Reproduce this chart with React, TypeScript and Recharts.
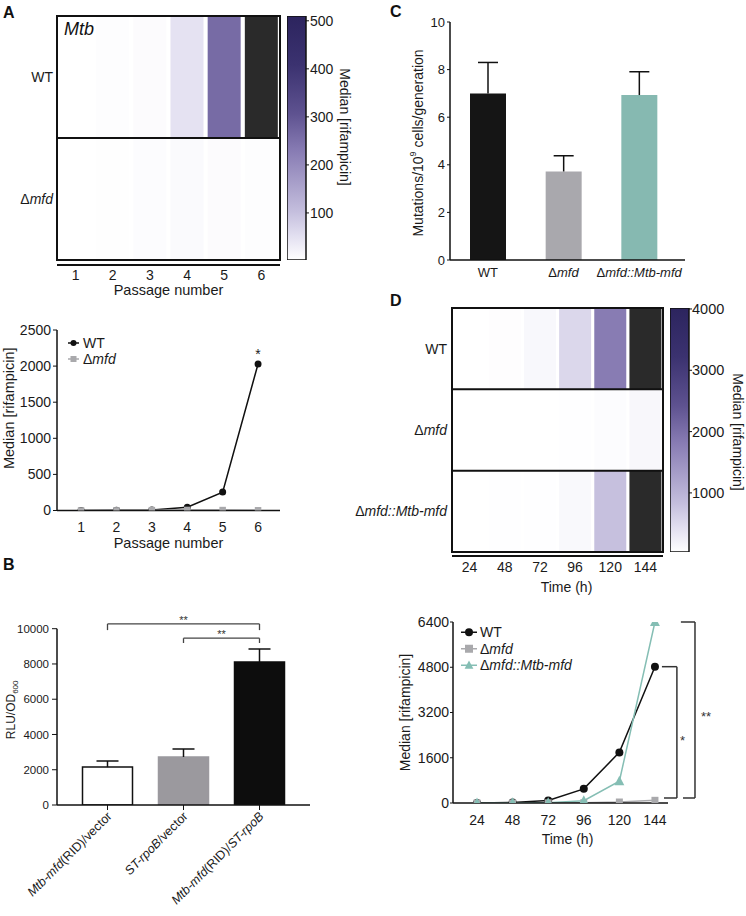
import React from "react";
import {
  BarChart, Bar, LineChart, Line, XAxis, YAxis, Cell,
  ReferenceLine, ReferenceDot, Legend,
} from "recharts";

const FONT = '"Liberation Sans", Arial, Helvetica, sans-serif';
const INK = "#1a1a1a";

// A: Mtb passage experiment
const passages = [1, 2, 3, 4, 5, 6];
const wtPassage = [0, 3, 6, 45, 255, 2030];
const mfdPassage = [0, 2, 5, 8, 6, 3];
const passageScaleRange = [2, 510];
const passageScaleTicks = [100, 200, 300, 400, 500];
const passageLineTicks = [0, 500, 1000, 1500, 2000, 2500];

// B: reporter assay
const constructs = ["Mtb-mfd(RID)/vector", "ST-rpoB/vector", "Mtb-mfd(RID)/ST-rpoB"];
const rluMean = [2150, 2720, 8110];
const rluErr = [340, 450, 740];
const rluTicks = [0, 2000, 4000, 6000, 8000, 10000];

// C: mutation rate
const strains = ["WT", "Δmfd", "Δmfd::Mtb-mfd"];
const mutRate = [7.0, 3.72, 6.93];
const mutErr = [1.3, 0.66, 0.98];
const mutTicks = [0, 2, 4, 6, 8, 10];

// D: time course
const hours = [24, 48, 72, 96, 120, 144];
const wtTime = [0, 20, 90, 500, 1790, 4820];
const mfdTime = [0, 0, 5, 10, 35, 95];
const compTime = [0, 8, 12, 80, 770, 6400];
const timeScaleRange = [36, 4016];
const timeScaleTicks = [1000, 2000, 3000, 4000];
const timeLineTicks = [0, 1600, 3200, 4800, 6400];

// colour map used by both heatmaps (t = value / max)
const HEAT_STOPS: [number, string][] = [
  [0, "#ffffff"], [0.1, "#e2dff0"], [0.2, "#c4bedd"], [0.45, "#877bb3"],
  [0.6, "#5e5290"], [0.8, "#3b3270"], [1, "#2c245e"],
];
const SATURATED = "#2a2a2a";

const toRgb = (h: string) => [1, 3, 5].map((i) => parseInt(h.slice(i, i + 2), 16));
function heatColor(v: number, max: number) {
  if (v > max) return SATURATED;
  const t = Math.max(0, v / max);
  for (let k = 1; k < HEAT_STOPS.length; k++) {
    const [t0, c0] = HEAT_STOPS[k - 1];
    const [t1, c1] = HEAT_STOPS[k];
    if (t <= t1) {
      const u = (t - t0) / (t1 - t0);
      const a = toRgb(c0), b = toRgb(c1);
      return `rgb(${a.map((x, i) => Math.round(x + (b[i] - x) * u)).join(",")})`;
    }
  }
  return HEAT_STOPS[HEAT_STOPS.length - 1][1];
}

const SERIES: Record<string, { color: string; marker: "circle" | "square" | "triangle"; label: string }> = {
  wt: { color: "#111111", marker: "circle", label: "WT" },
  mfd: { color: "#a9a9ac", marker: "square", label: "Δmfd" },
  comp: { color: "#85beb4", marker: "triangle", label: "Δmfd::Mtb-mfd" },
};

// gene names in italics
const rich = (s: string) =>
  s.split(/(mfd::Mtb-mfd|Mtb-mfd|ST-rpoB|mfd)/).map((part, i) =>
    part === "" ? null : i % 2 ? <tspan key={i} fontStyle="italic">{part}</tspan> : <tspan key={i}>{part}</tspan>
  );

function drawMarker(kind: string, cx: number, cy: number, color: string, s: number) {
  if (kind === "circle") return <circle cx={cx} cy={cy} r={s / 2} fill={color} />;
  if (kind === "square") return <rect x={cx - s / 2} y={cy - s / 2} width={s} height={s} fill={color} />;
  return <path d={`M${cx},${cy - s * 0.6} L${cx + s * 0.55},${cy + s * 0.45} L${cx - s * 0.55},${cy + s * 0.45} Z`} fill={color} />;
}

const markerDot = (key: string, size: number) => (p: any) => (
  <g key={`${key}-${p.index}`}>
    {p.cx != null && p.cy != null ? drawMarker(SERIES[key].marker, p.cx, p.cy, SERIES[key].color, size) : null}
  </g>
);

// upper whisker only: drawn on a transparent segment stacked on the bar
const whisker = (half: number) => (p: any) => {
  const cx = p.x + p.width / 2;
  return (
    <g stroke="#111" strokeWidth={1.5}>
      <line x1={cx} x2={cx} y1={p.y} y2={p.y + p.height} />
      <line x1={cx - half} x2={cx + half} y1={p.y} y2={p.y} />
    </g>
  );
};

const legendContent = (lineLen: number, rowH: number, size: number, fontSize: number, gap: number) => (props: any) => {
  const items = props.payload ?? [];
  return (
    <svg width={200} height={rowH * items.length + 2} style={{ overflow: "visible" }}>
      {items.map((it: any, i: number) => {
        const s = SERIES[it.dataKey];
        const y = rowH * i + rowH / 2;
        return (
          <g key={it.dataKey}>
            <line x1={0} x2={lineLen} y1={y} y2={y} stroke={s.color} strokeWidth={1.5} />
            {drawMarker(s.marker, lineLen / 2, y, s.color, size)}
            <text x={lineLen + gap} y={y} dy="0.35em" fontSize={fontSize} fill={INK} fontFamily={FONT}>{rich(s.label)}</text>
          </g>
        );
      })}
    </svg>
  );
};

function axisTitle(content: React.ReactNode, axis: "x" | "y", offset: number,
  opts: { angle?: number; shift?: number; size?: number } = {}) {
  const { angle = 0, shift = 0, size = 14 } = opts;
  return (props: any) => {
    const vb = props.viewBox;
    if (!vb) return null;
    const x = axis === "x" ? vb.x + vb.width / 2 + shift : vb.x + offset;
    const y = axis === "x" ? vb.y + offset : vb.y + vb.height / 2 + shift;
    return (
      <text x={x} y={y} textAnchor="middle" dominantBaseline="central" fontSize={size} fill={INK}
        transform={angle ? `rotate(${angle} ${x} ${y})` : undefined}>{content}</text>
    );
  };
}

const rowTick = (rows: string[], size: number) => (props: any) => (
  <text x={props.x} y={props.y} dy="0.35em" textAnchor="end" fontSize={size} fill={INK}>
    {rich(rows[Math.floor(props.payload.value)])}
  </text>
);

const strainTick = (props: any) => (
  <text x={props.x} y={props.y} dy={10} textAnchor="middle" fontSize={13} fill={INK}>{rich(props.payload.value)}</text>
);

const constructTick = (props: any) => {
  const x = props.x + 5, y = props.y + 5;
  return (
    <text x={x} y={y} textAnchor="end" fontSize={12.5} fill={INK} transform={`rotate(-45 ${x} ${y})`}>
      {rich(props.payload.value)}
    </text>
  );
};

const gradStops = HEAT_STOPS.slice().reverse().map(([t, c]) => <stop key={t} offset={1 - t} stopColor={c} />);

const axisLine = { stroke: "#111", strokeWidth: 1.5 };
const tickLine = { stroke: "#111" };
const At = ({ left, top, children }: { left: number; top: number; children: React.ReactNode }) => (
  <div style={{ position: "absolute", left, top }}>{children}</div>
);

const heatA = passages.map((p, i) => ({ passage: String(p), mfdRow: 1, wtRow: 1, wt: wtPassage[i], mfd: mfdPassage[i] }));
const lineA = passages.map((p, i) => ({ passage: p, wt: wtPassage[i], mfd: mfdPassage[i] }));
const rluData = constructs.map((c, i) => ({ construct: c, rlu: rluMean[i], errUp: rluErr[i] }));
const mutData = strains.map((s, i) => ({ strain: s, rate: mutRate[i], errUp: mutErr[i] }));
const heatD = hours.map((h, i) => ({
  hour: String(h), compRow: 1, mfdRow: 1, wtRow: 1, wt: wtTime[i], mfd: mfdTime[i], comp: compTime[i],
}));
const lineD = hours.map((h, i) => ({ hour: h, wt: wtTime[i], mfd: mfdTime[i], comp: compTime[i] }));

const RLU_FILLS = ["#ffffff", "#9b999e", "#0d0d0d"];
const MUT_FILLS = ["#151515", "#a9a8ad", "#86b9b1"];

const rluBrackets = [
  { from: 0, to: 2, level: 10270, leg: 9920 },
  { from: 1, to: 2, level: 9460, leg: 9190 },
];
const timeBrackets = [
  { x: 158.8, xTop: 148.7, xBottom: 150.1, top: wtTime[5], bottom: 177, mark: "*", off: 3, dy: 8 },
  { x: 171, xTop: 161.5, xBottom: 162.9, top: compTime[5], bottom: 177, mark: "**", off: 6, dy: 6 },
];

export default function App() {
  return (
    <div style={{ position: "absolute", left: 0, top: 0, width: 746, height: 916, background: "#fff", fontFamily: FONT, overflow: "hidden" }}>
      {/* A heatmap */}
      <At left={0} top={0}>
        <BarChart width={300} height={300} data={heatA} margin={{ top: 16, right: 20, bottom: 0, left: 0 }} barCategoryGap={2}>
          <XAxis dataKey="passage" height={40} axisLine={false} tickLine={false} tickSize={0} tickMargin={10} interval={0}
            tick={{ fontSize: 14, fill: INK }} label={axisTitle("Passage number", "x", 30, { size: 14.5 })} />
          <YAxis type="number" domain={[0, 2]} ticks={[0.5, 1.5]} width={57} axisLine={false} tickLine={false}
            tickSize={0} tickMargin={4} tick={rowTick(["Δmfd", "WT"], 14)} />
          <Bar dataKey="mfdRow" stackId="rows" isAnimationActive={false}>
            {heatA.map((d) => <Cell key={d.passage} fill={heatColor(d.mfd, 500)} />)}
          </Bar>
          <Bar dataKey="wtRow" stackId="rows" isAnimationActive={false}>
            {heatA.map((d) => <Cell key={d.passage} fill={heatColor(d.wt, 500)} />)}
          </Bar>
        </BarChart>
      </At>
      <At left={287} top={0}>
        <BarChart width={90} height={300} data={[{ key: "scale", top: passageScaleRange[1] }]}
          margin={{ top: 16, right: 0, bottom: 40, left: 0 }} barCategoryGap={0}>
          <defs>
            <linearGradient id="heatA" x1="0" y1="0" x2="0" y2="1">{gradStops}</linearGradient>
          </defs>
          <XAxis dataKey="key" hide />
          <YAxis orientation="right" type="number" domain={passageScaleRange} allowDataOverflow ticks={passageScaleTicks}
            width={71} axisLine={false} tickSize={3} tickMargin={1} tickLine={tickLine} tick={{ fontSize: 14, fill: INK }}
            label={axisTitle("Median [rifampicin]", "y", 39, { angle: 90, shift: -11 })} />
          <Bar dataKey="top" fill="url(#heatA)" stroke="#111" strokeWidth={1.5} isAnimationActive={false} />
        </BarChart>
      </At>

      {/* A line */}
      <At left={0} top={300}>
        <LineChart width={300} height={260} data={lineA} margin={{ top: 30, right: 20, bottom: 4.5, left: 0 }}>
          <XAxis type="number" dataKey="passage" domain={[0.32, 6.62]} allowDataOverflow ticks={passages} height={45}
            axisLine={axisLine} tickLine={false} tickSize={0} tickMargin={11.5} tick={{ fontSize: 14, fill: INK }}
            label={axisTitle("Passage number", "x", 32.5, { size: 14.5 })} />
          <YAxis domain={[0, 2500]} allowDataOverflow ticks={passageLineTicks} width={57} axisLine={axisLine}
            tickLine={tickLine} tickSize={4} tickMargin={2} tick={{ fontSize: 14, fill: INK }}
            label={axisTitle("Median [rifampicin]", "y", 9, { angle: -90, shift: -12, size: 14.5 })} />
          <Legend layout="vertical" align="center" verticalAlign="middle"
            wrapperStyle={{ left: 68, top: 35, width: 140, height: 36 }} content={legendContent(11, 16, 6, 14, 4)} />
          <Line dataKey="wt" name="WT" stroke={SERIES.wt.color} strokeWidth={1.5} dot={markerDot("wt", 7)}
            activeDot={false} isAnimationActive={false} />
          <Line dataKey="mfd" name="Δmfd" stroke={SERIES.mfd.color} strokeWidth={1.5} dot={markerDot("mfd", 6.5)}
            activeDot={false} isAnimationActive={false} />
          <ReferenceDot x={passages[5]} y={wtPassage[5]} r={0} fill="none" stroke="none"
            label={{ value: "*", position: "top", offset: 5, fontSize: 14, fill: INK }} />
        </LineChart>
      </At>

      {/* B */}
      <At left={0} top={570}>
        <BarChart width={330} height={346} data={rluData} margin={{ top: 58.7, right: 20, bottom: 11, left: 0 }}>
          <XAxis dataKey="construct" padding={{ left: 12.5, right: 12.5 }} height={100} axisLine={axisLine}
            tickLine={tickLine} tickSize={5} tickMargin={2} interval={0} tick={constructTick} />
          <YAxis domain={[0, 10000]} allowDataOverflow ticks={rluTicks} width={57} axisLine={axisLine} tickLine={tickLine}
            tickSize={5} tickMargin={3} tick={{ fontSize: 11.5, fill: INK }}
            label={axisTitle(<>RLU/OD<tspan baselineShift="sub" fontSize={8}>600</tspan></>, "y", 11, { angle: -90, shift: -7, size: 12 })} />
          <Bar dataKey="rlu" stackId="s" barSize={50} isAnimationActive={false}>
            {rluData.map((d, i) => <Cell key={d.construct} fill={RLU_FILLS[i]} stroke={i === 0 ? "#111" : RLU_FILLS[i]} strokeWidth={1.5} />)}
          </Bar>
          <Bar dataKey="errUp" stackId="s" barSize={50} fill="none" shape={whisker(11)} isAnimationActive={false} />
          {rluBrackets.map((b, k) => (
            <React.Fragment key={k}>
              <ReferenceLine ifOverflow="visible" stroke="#444" strokeWidth={1.3}
                segment={[{ x: constructs[b.from], y: b.level }, { x: constructs[b.to], y: b.level }]}
                label={{ value: "**", position: "top", offset: 0, fontSize: 11, fill: "#333" }} />
              <ReferenceLine ifOverflow="visible" stroke="#444" strokeWidth={1.3}
                segment={[{ x: constructs[b.from], y: b.level }, { x: constructs[b.from], y: b.leg }]} />
              <ReferenceLine ifOverflow="visible" stroke="#444" strokeWidth={1.3}
                segment={[{ x: constructs[b.to], y: b.level }, { x: constructs[b.to], y: b.leg }]} />
            </React.Fragment>
          ))}
        </BarChart>
      </At>

      {/* C */}
      <At left={373} top={0}>
        <BarChart width={373} height={300} data={mutData} margin={{ top: 22, right: 61, bottom: 10, left: 0 }}>
          <XAxis dataKey="strain" padding={{ left: 0, right: 8 }} height={30} axisLine={axisLine}
            tickLine={false} tickSize={0} tickMargin={7} interval={0} tick={strainTick} />
          <YAxis domain={[0, 10]} allowDataOverflow ticks={mutTicks} width={77} axisLine={axisLine} tickLine={tickLine}
            tickSize={3} tickMargin={2} tick={{ fontSize: 13, fill: INK }}
            label={axisTitle(<>Mutations/10<tspan baselineShift="super" fontSize={9}>9</tspan> cells/generation</>, "y", 45, { angle: -90, shift: 2 })} />
          <Bar dataKey="rate" stackId="s" barSize={36} isAnimationActive={false}>
            {mutData.map((d, i) => <Cell key={d.strain} fill={MUT_FILLS[i]} />)}
          </Bar>
          <Bar dataKey="errUp" stackId="s" barSize={36} fill="none" shape={whisker(10)} isAnimationActive={false} />
        </BarChart>
      </At>

      {/* D heatmap */}
      <At left={300} top={290}>
        <BarChart width={373} height={310} data={heatD} margin={{ top: 18, right: 10, bottom: 8, left: 0 }} barCategoryGap={1.6}>
          <XAxis dataKey="hour" height={40} axisLine={false} tickLine={false} tickSize={0} tickMargin={10} interval={0}
            tick={{ fontSize: 14, fill: INK }} label={axisTitle("Time (h)", "x", 35, { shift: 9 })} />
          <YAxis type="number" domain={[0, 3]} ticks={[0.5, 1.5, 2.5]} width={152} axisLine={false} tickLine={false}
            tickSize={0} tickMargin={5} tick={rowTick(["Δmfd::Mtb-mfd", "Δmfd", "WT"], 14)} />
          <Bar dataKey="compRow" stackId="rows" isAnimationActive={false}>
            {heatD.map((d) => <Cell key={d.hour} fill={heatColor(d.comp, 4000)} />)}
          </Bar>
          <Bar dataKey="mfdRow" stackId="rows" isAnimationActive={false}>
            {heatD.map((d) => <Cell key={d.hour} fill={heatColor(d.mfd, 4000)} />)}
          </Bar>
          <Bar dataKey="wtRow" stackId="rows" isAnimationActive={false}>
            {heatD.map((d) => <Cell key={d.hour} fill={heatColor(d.wt, 4000)} />)}
          </Bar>
        </BarChart>
      </At>
      <At left={670} top={290}>
        <BarChart width={76} height={310} data={[{ key: "scale", top: timeScaleRange[1] }]}
          margin={{ top: 18, right: 0, bottom: 48, left: 0 }} barCategoryGap={0}>
          <defs>
            <linearGradient id="heatD" x1="0" y1="0" x2="0" y2="1">{gradStops}</linearGradient>
          </defs>
          <XAxis dataKey="key" hide />
          <YAxis orientation="right" type="number" domain={timeScaleRange} allowDataOverflow ticks={timeScaleTicks}
            width={57} axisLine={false} tickSize={3} tickMargin={0} tickLine={tickLine} tick={{ fontSize: 14.5, fill: INK }}
            label={axisTitle("Median [rifampicin]", "y", 49, { angle: 90, shift: 2 })} />
          <Bar dataKey="top" fill="url(#heatD)" stroke="#111" strokeWidth={1.5} isAnimationActive={false} />
        </BarChart>
      </At>

      {/* D line */}
      <At left={373} top={600}>
        <LineChart width={373} height={316} data={lineD} margin={{ top: 22, right: 78, bottom: 63, left: 0 }}>
          <XAxis type="number" dataKey="hour" domain={[7.8, 152.8]} allowDataOverflow ticks={hours} height={50}
            axisLine={axisLine} tickLine={false} tickSize={0} tickMargin={12} tick={{ fontSize: 14, fill: INK }}
            label={axisTitle("Time (h)", "x", 36, { shift: 7 })} />
          <YAxis domain={[0, 6400]} allowDataOverflow ticks={timeLineTicks} width={80} axisLine={axisLine}
            tickLine={tickLine} tickSize={3} tickMargin={1} tick={{ fontSize: 14, fill: INK }}
            label={axisTitle("Median [rifampicin]", "y", 32, { angle: -90 })} />
          <Legend layout="vertical" align="center" verticalAlign="middle"
            wrapperStyle={{ left: 88, top: 23.75, width: 160, height: 50 }} content={legendContent(16, 16.5, 8, 14, 3)} />
          <Line dataKey="wt" name="WT" stroke={SERIES.wt.color} strokeWidth={1.5} dot={markerDot("wt", 8)}
            activeDot={false} isAnimationActive={false} />
          <Line dataKey="mfd" name="Δmfd" stroke={SERIES.mfd.color} strokeWidth={1.5} dot={markerDot("mfd", 7)}
            activeDot={false} isAnimationActive={false} />
          <Line dataKey="comp" name="Δmfd::Mtb-mfd" stroke={SERIES.comp.color} strokeWidth={1.5} dot={markerDot("comp", 9)}
            activeDot={false} isAnimationActive={false} />
          {timeBrackets.map((b, k) => (
            <React.Fragment key={k}>
              <ReferenceLine ifOverflow="visible" stroke="#333" strokeWidth={1.5}
                segment={[{ x: b.x, y: b.top }, { x: b.x, y: b.bottom }]}
                label={{ value: b.mark, position: "right", offset: b.off, dy: b.dy, fontSize: 13, fill: "#333" }} />
              <ReferenceLine ifOverflow="visible" stroke="#333" strokeWidth={1.5}
                segment={[{ x: b.xTop, y: b.top }, { x: b.x, y: b.top }]} />
              <ReferenceLine ifOverflow="visible" stroke="#333" strokeWidth={1.5}
                segment={[{ x: b.xBottom, y: b.bottom }, { x: b.x, y: b.bottom }]} />
            </React.Fragment>
          ))}
        </LineChart>
      </At>

      {/* frames, panel letters */}
      <svg width={746} height={916} style={{ position: "absolute", left: 0, top: 0, pointerEvents: "none" }}>
        <g fontFamily={FONT} fontWeight="bold" fontSize={16} fill="#111">
          <text x={3} y={17.5}>A</text>
          <text x={3} y={570}>B</text>
          <text x={390} y={17}>C</text>
          <text x={390} y={306}>D</text>
        </g>
        <text x={64} y={35} fontFamily={FONT} fontSize={18} fontStyle="italic" fill="#111">Mtb</text>
        <g stroke="#111" strokeWidth={2} fill="none">
          <rect x={57} y={16} width={223} height={244} />
          <line x1={57} x2={280} y1={138} y2={138} />
          <line x1={57} x2={280} y1={265} y2={265} />
          <rect x={452} y={308} width={211} height={244} />
          <line x1={452} x2={663} y1={389.3} y2={389.3} />
          <line x1={452} x2={663} y1={470.7} y2={470.7} />
          <line x1={452} x2={663} y1={556} y2={556} />
        </g>
      </svg>
    </div>
  );
}
